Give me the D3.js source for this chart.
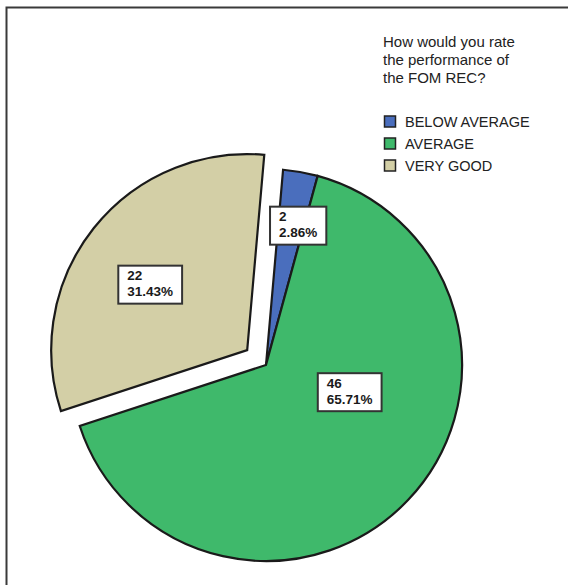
<!DOCTYPE html>
<html>
<head>
<meta charset="utf-8">
<script src="https://cdn.jsdelivr.net/npm/d3@7"></script>
<style>
  html, body { margin: 0; padding: 0; background: #fff; }
  svg { display: block; }
  text { font-family: "Liberation Sans", Arial, Helvetica, sans-serif; }
</style>
</head>
<body>
<svg id="chart" width="568" height="585"></svg>
<script>
// ---- data ----
const categories = ["BELOW AVERAGE", "AVERAGE", "VERY GOOD"];
const counts = [2, 46, 22];
const percentLabels = ["2.86%", "65.71%", "31.43%"];
const colors = ["#4a6ebd", "#3fb96b", "#d3cfa6"];
const exploded = [false, false, true];
const legendTitle = ["How would you rate", "the performance of", "the FOM REC?"];

// ---- layout ----
const svg = d3.select("#chart");
const W = 568, H = 585;
const cx = 266, cy = 365, R = 196;
const explodeDist = 24;
const startDeg = 5;

// frame
svg.append("path")
  .attr("d", `M6.5,${H} L6.5,7.5 L${W},7.5`)
  .attr("fill", "none").attr("stroke", "#3a3a3a").attr("stroke-width", 2);

const pie = d3.pie().sort(null).value(d => d)
  .startAngle(startDeg * Math.PI / 180)
  .endAngle((startDeg + 360) * Math.PI / 180);
const arcs = pie(counts);
const arc = d3.arc().innerRadius(0).outerRadius(R);

const g = svg.append("g").attr("transform", `translate(${cx},${cy})`);

function offset(d, i) {
  if (!exploded[i]) return [0, 0];
  const m = (d.startAngle + d.endAngle) / 2;
  return [Math.sin(m) * explodeDist, -Math.cos(m) * explodeDist];
}

g.selectAll("path.slice").data(arcs).enter().append("path")
  .attr("class", "slice")
  .attr("d", arc)
  .attr("transform", (d, i) => { const o = offset(d, i); return `translate(${o[0]},${o[1]})`; })
  .attr("fill", (d, i) => colors[i])
  .attr("stroke", "#1a1a1a").attr("stroke-width", 2.2)
  .attr("stroke-linejoin", "miter");

// label boxes: positioned by polar placement (angle deg from top, radius) relative to slice origin
const labelPlace = [[13, 143], [108, 88], [304, 117]];
arcs.forEach((d, i) => {
  const o = offset(d, i);
  const a = labelPlace[i][0] * Math.PI / 180, r = labelPlace[i][1];
  const x = cx + o[0] + Math.sin(a) * r;
  const y = cy + o[1] - Math.cos(a) * r;
  const lg = svg.append("g").attr("transform", `translate(${x},${y})`);
  const rect = lg.append("rect");
  const t = lg.append("text").attr("font-size", 13.5).attr("font-weight", "bold").attr("fill", "#1a1a1a");
  t.append("tspan").attr("x", 0).attr("y", -4.5).text(counts[i]);
  t.append("tspan").attr("x", 0).attr("y", 11.5).text(percentLabels[i]);
  const bb = t.node().getBBox();
  const padL = 9, padR = 9;
  const w = bb.width + padL + padR;
  const h = 38;
  t.attr("transform", `translate(${-w / 2 + padL},0)`);
  rect.attr("x", -w / 2).attr("y", -h / 2).attr("width", w).attr("height", h)
    .attr("fill", "#fff").attr("stroke", "#333").attr("stroke-width", 2);
});

// legend
const lt = svg.append("text").attr("x", 383).attr("y", 47).attr("font-size", 15).attr("fill", "#222");
legendTitle.forEach((s, i) => lt.append("tspan").attr("x", 383).attr("y", 47 + i * 18).text(s));

const leg = svg.append("g");
categories.forEach((c, i) => {
  const y = 116 + i * 22;
  leg.append("rect").attr("x", 384.5).attr("y", y).attr("width", 11).attr("height", 11)
    .attr("fill", colors[i]).attr("stroke", "#222").attr("stroke-width", 1.5);
  leg.append("text").attr("x", 405).attr("y", y + 11).attr("font-size", 14.5).attr("fill", "#222").text(c);
});
</script>
</body>
</html>
